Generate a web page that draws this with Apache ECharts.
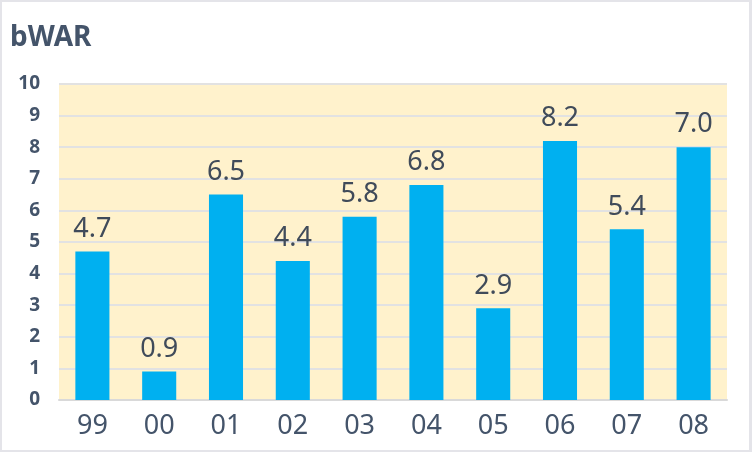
<!DOCTYPE html>
<html>
<head>
<meta charset="utf-8">
<script src="https://cdn.jsdelivr.net/npm/echarts@6/dist/echarts.min.js"></script>
<style>
  html, body { margin: 0; padding: 0; background: #fff; }
  #chart { width: 752px; height: 452px; box-sizing: border-box; border: 2px solid #E4E4E9; border-right-width: 3px; }
</style>
</head>
<body>
<div id="chart"></div>
<script>
const seasons = ['99', '00', '01', '02', '03', '04', '05', '06', '07', '08'];
// bar heights as drawn
const bwar = [4.7, 0.9, 6.5, 4.4, 5.8, 6.8, 2.9, 8.2, 5.4, 8.0];
// label text as printed above each bar
const barLabels = ['4.7', '0.9', '6.5', '4.4', '5.8', '6.8', '2.9', '8.2', '5.4', '7.0'];

const textColor = '#44546A';
const font = '"Noto Sans", "Open Sans", sans-serif';

let myChart = echarts.init(document.getElementById('chart'));
myChart.setOption({
  animation: false,
  title: {
    text: 'bWAR',
    left: 3,
    top: 17,
    textStyle: { color: textColor, fontSize: 28, fontWeight: 'bold', fontFamily: font }
  },
  grid: {
    left: 57,
    right: 22,
    top: 82,
    bottom: 50,
    show: true,
    backgroundColor: '#FFF2CC',
    borderWidth: 0
  },
  xAxis: {
    type: 'category',
    data: seasons,
    axisTick: { show: false },
    axisLine: { show: true, lineStyle: { color: '#D9D9D9', width: 2 } },
    axisLabel: { color: textColor, fontSize: 27, fontFamily: font, margin: 13 }
  },
  yAxis: {
    type: 'value',
    min: 0,
    max: 10,
    interval: 1,
    axisLine: { show: false },
    axisTick: { show: false },
    splitLine: { lineStyle: { color: '#E2E2E2', width: 2 } },
    axisLabel: { color: textColor, fontSize: 19, fontWeight: 'bold', fontFamily: font, margin: 19 }
  },
  series: [{
    type: 'bar',
    data: bwar,
    barWidth: '51%',
    itemStyle: { color: '#00B0F0' },
    label: {
      show: true,
      position: 'top',
      distance: 9,
      color: '#404B5A',
      fontSize: 27,
      fontFamily: font,
      formatter: p => barLabels[p.dataIndex]
    }
  }]
});
</script>
</body>
</html>
